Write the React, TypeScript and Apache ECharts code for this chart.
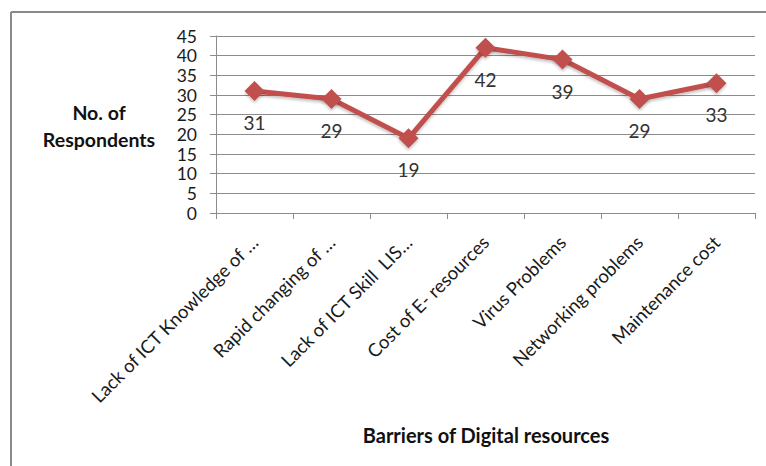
import React, { useEffect, useRef } from "react";
import * as echarts from "echarts";

const categories = [
  "Lack of ICT Knowledge of …",
  "Rapid changing of …",
  "Lack of ICT Skill  LIS…",
  "Cost of E- resources",
  "Virus Problems",
  "Networking problems",
  "Maintenance cost",
];
const respondents = [31, 29, 19, 42, 39, 29, 33];
const yTicks = { min: 0, max: 45, interval: 5 };

const FONT = "Lato, 'Open Sans', sans-serif";

export default function App() {
  const ref = useRef<HTMLDivElement>(null);
  useEffect(() => {
    if (!ref.current) return;
    const chart = echarts.init(ref.current, undefined, { renderer: "svg" });
    chart.setOption({
      animation: false,
      backgroundColor: "#ffffff",
      grid: { left: 216, right: 11, top: 36, bottom: 253, containLabel: false },
      xAxis: {
        type: "category",
        data: categories,
        boundaryGap: true,
        axisLine: { lineStyle: { color: "#8c8c8c", width: 1 } },
        axisTick: { show: true, length: 6, lineStyle: { color: "#8c8c8c" } },
        axisLabel: {
          rotate: 45,
          interval: 0,
          margin: 26,
          color: "#1a1a1a",
          fontSize: 18.5,
          fontFamily: FONT,
        },
        splitLine: { show: false },
      },
      yAxis: {
        type: "value",
        min: yTicks.min,
        max: yTicks.max,
        interval: yTicks.interval,
        axisLine: { show: true, lineStyle: { color: "#8c8c8c" } },
        axisTick: { show: true, length: 6, lineStyle: { color: "#8c8c8c" } },
        axisLabel: {
          color: "#1a1a1a",
          fontSize: 17.5,
          lineHeight: 18,
          fontFamily: FONT,
          margin: 19,
        },
        splitLine: { show: true, lineStyle: { color: "#8c8c8c", width: 1 } },
      },
      series: [
        {
          type: "line",
          data: respondents,
          symbol: "diamond",
          symbolSize: 20,
          lineStyle: {
            color: "#C0504D",
            width: 5,
            shadowColor: "rgba(0,0,0,0.25)",
            shadowBlur: 3,
            shadowOffsetY: 2,
          },
          itemStyle: {
            color: "#C0504D",
            shadowColor: "rgba(0,0,0,0.25)",
            shadowBlur: 3,
            shadowOffsetY: 2,
          },
          label: {
            show: true,
            position: "bottom",
            distance: 12,
            color: "#333333",
            fontSize: 19,
            fontFamily: FONT,
          },
        },
      ],
      graphic: [
        {
          type: "line",
          shape: { x1: 11, y1: 12, x2: 11, y2: 466 },
          style: { stroke: "#8a8a8a", lineWidth: 2 },
        },
        {
          type: "line",
          shape: { x1: 11, y1: 12, x2: 766, y2: 12 },
          style: { stroke: "#8a8a8a", lineWidth: 2 },
        },
        {
          type: "text",
          x: 99,
          y: 126,
          style: {
            text: "No. of\nRespondents",
            fontSize: 19.5,
            fontWeight: "bold",
            fontFamily: FONT,
            fill: "#111111",
            align: "center",
            verticalAlign: "middle",
            lineHeight: 27,
          },
        },
        {
          type: "text",
          x: 486,
          y: 435,
          style: {
            text: "Barriers of Digital resources",
            fontSize: 20,
            fontWeight: "bold",
            fontFamily: FONT,
            fill: "#111111",
            align: "center",
            verticalAlign: "middle",
          },
        },
      ],
    });
    return () => chart.dispose();
  }, []);
  return (
    <div
      ref={ref}
      style={{ position: "absolute", left: 0, top: 0, width: 766, height: 466 }}
    />
  );
}
